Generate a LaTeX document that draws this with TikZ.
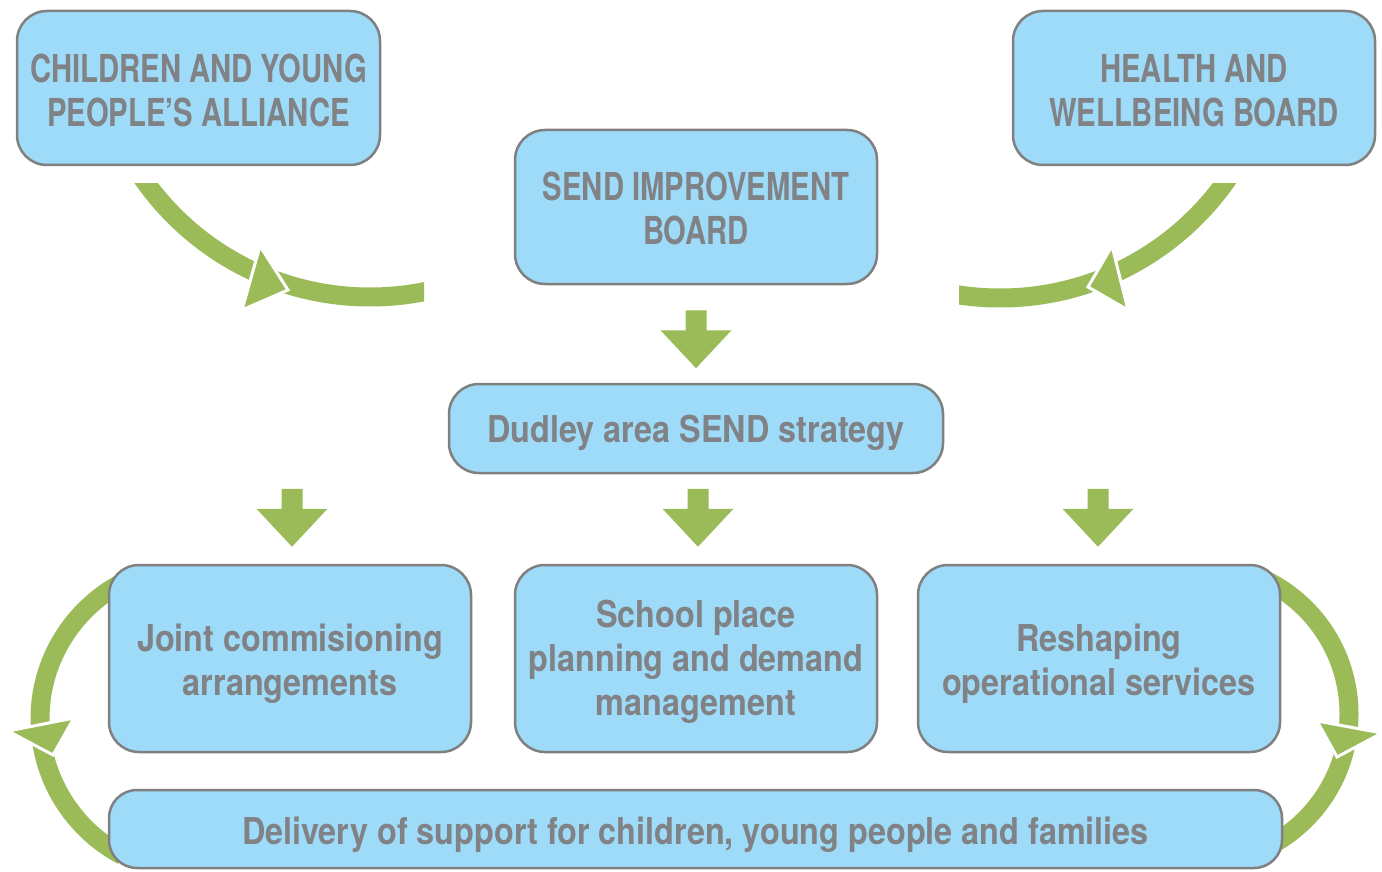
\documentclass[tikz,border=0pt]{standalone}
\usepackage{fontspec}
\newfontfamily\hfont{TeX Gyre Heros}[FakeStretch=0.76]
\newfontfamily\lfont{TeX Gyre Heros}[FakeStretch=0.875]
\usetikzlibrary{calc}
\definecolor{boxfill}{HTML}{9DDBF8}
\definecolor{boxline}{HTML}{808080}
\definecolor{txtgray}{HTML}{818285}
\definecolor{arrgreen}{HTML}{9BBB59}
\newcommand\lift[1]{\rule{0pt}{#1pt}}
\begin{document}
\begin{tikzpicture}[x=1pt,y=-1pt,
  box/.style={draw=boxline, line width=2.5pt, fill=boxfill, rounded corners=30pt,
    inner sep=0pt, align=center, text=txtgray},
  capfont/.style={font=\hfont\bfseries\fontsize{38.5}{44}\selectfont},
  lowfont/.style={font=\lfont\bfseries\fontsize{37}{44}\selectfont},
  band/.style={draw=arrgreen, line width=19pt},
  headtri/.style={fill=arrgreen, draw=white, line width=3pt},
  blockdown/.pic={\fill[arrgreen] (-10.5,0) -- (10.5,0) -- (10.5,20) -- (35.5,20) -- (0,58) -- (-35.5,20) -- (-10.5,20) -- cycle;}
]
\useasboundingbox (0,0) rectangle (1382,872);
\fill[white] (0,0) rectangle (1382,872);

% side curved arrows (behind boxes)
\coordinate (lc) at (194,719);
\coordinate (rc) at (1200,714);
\begin{scope}
  \clip (0,540) rectangle (118,872);
  \draw[band] (lc) circle (154);
\end{scope}
\begin{scope}
  \clip (1272,540) rectangle (1382,872);
  \draw[band] (rc) circle (149);
\end{scope}
\draw[headtri] (8,731) -- (74,718) -- (53,755) -- cycle;
\draw[headtri] (1317,721) -- (1382,733) -- (1337,757) -- cycle;

% boxes
\node[box, capfont, minimum width=363, minimum height=154] (cypa) at (198.5,88)
  {\lift{33.7}CHILDREN AND YOUNG\\PEOPLE’S ALLIANCE};
\node[box, capfont, minimum width=362, minimum height=154] (hwb) at (1194,88)
  {\lift{33.7}HEALTH AND\\WELLBEING BOARD};
\node[box, capfont, minimum width=362, minimum height=154] (sib) at (696,207)
  {\lift{32}SEND IMPROVEMENT\\BOARD};
\node[box, lowfont, minimum width=494, minimum height=89] (dud) at (696,428.5)
  {\lift{37}Dudley area SEND strategy};
\node[box, lowfont, minimum width=362, minimum height=187] (joint) at (290,658.5)
  {\lift{39}Joint commisioning\\arrangements};
\node[box, lowfont, minimum width=362, minimum height=187] (school) at (696,658.5)
  {\lift{35}School place\\planning and demand\\management};
\node[box, lowfont, minimum width=362, minimum height=187] (resh) at (1099,658.5)
  {\lift{39}Reshaping\\operational services};
\node[box, lowfont, minimum width=1173, minimum height=78, rounded corners=28pt] (deliv) at (695.5,829)
  {\lift{40}Delivery of support for children, young people and families};

% top curved arrows
\coordinate (tlc) at (370,20);
\coordinate (trc) at (1000,21);
\begin{scope}
  \clip (0,184) rectangle (424,420);
  \draw[band] (tlc) circle (277);
\end{scope}
\draw[headtri] (260,246) -- (242,310) -- (288,290) -- cycle;
\begin{scope}
  \clip (959,184) rectangle (1382,420);
  \draw[band] (trc) circle (277);
\end{scope}
\draw[headtri] (1112,246) -- (1128,310) -- (1088,287) -- cycle;

% block down arrows
\pic at ($(sib.south)+(0,25)$) {blockdown};
\pic at ($(joint.north)+(2,-75)$) {blockdown};
\pic at ($(school.north)+(2,-75)$) {blockdown};
\pic at ($(resh.north)+(-1,-75)$) {blockdown};
\end{tikzpicture}
\end{document}
